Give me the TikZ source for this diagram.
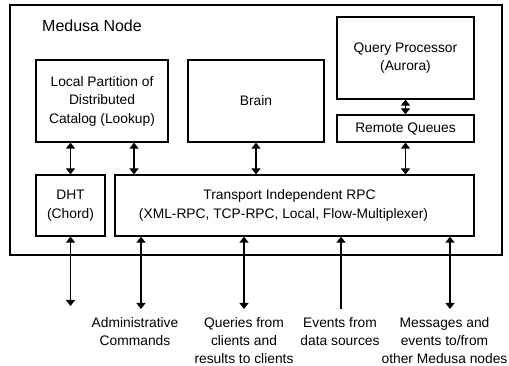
\documentclass[tikz,border=0pt]{standalone}
\usepackage{fontspec}
\setmainfont{Liberation Sans}
\usetikzlibrary{arrows.meta}

\tikzset{
  box/.style={draw, line width=1.2pt, inner sep=0pt, align=center, font=\fontsize{13.8}{18.5}\selectfont},
  lbl/.style={inner sep=0pt, align=center, anchor=north, font=\fontsize{13.8}{18}\selectfont},
  tip/.tip={Triangle[width=9pt,length=6pt]},
  link/.style={line width=1.2pt, tip-tip},
  feed/.style={line width=1.2pt, -tip}
}

\begin{document}
\begin{tikzpicture}[x=1pt,y=-1pt]
\useasboundingbox (0,0) rectangle (509,366);

% the node and its parts
\node[box, minimum width=492pt, minimum height=250pt] (medusa) at (256,130) {};
\node[anchor=base west, inner sep=0pt, font=\fontsize{16}{19}\selectfont] (title) at (42,31.5) {Medusa Node};
\node[box, minimum width=132pt, minimum height=82pt] (lp) at (102,101) {Local Partition of\\Distributed\\Catalog (Lookup)};
\node[box, minimum width=136pt, minimum height=82pt] (brain) at (256,101) {Brain};
\node[box, minimum width=137pt, minimum height=82pt] (qp) at (405.5,58) {Query Processor\\(Aurora)};
\node[box, minimum width=137pt, minimum height=27pt] (rq) at (405.5,128.5) {Remote Queues};
\node[box, minimum width=69pt, minimum height=61pt] (dht) at (70.5,205.5) {DHT\\(Chord)};
\node[box, minimum width=359pt, minimum height=61pt] (trp) at (294.5,205.5) {Transport Independent RPC\hspace*{10pt}\\(XML-RPC, TCP-RPC, Local, Flow-Multiplexer)\hspace*{22pt}};

% inner links
\draw[link] (lp.south -| dht.north) -- (dht.north);
\draw[link] ([xshift=32pt]lp.south) -- ([xshift=32pt]lp.south |- trp.north);
\draw[link] (brain.south) -- (brain.south |- trp.north);
\draw[link] (qp.south) -- (rq.north);
\draw[link] (rq.south) -- (rq.south |- trp.north);

% outside world
\coordinate (dhtend) at (70.5,306);
\coordinate (adminend) at (141,309);
\coordinate (queryend) at (244,309);
\coordinate (eventend) at (341,309);
\coordinate (msgend) at (450,309);
\draw[link] (dht.south) -- (dhtend);
\draw[link] (trp.south -| adminend) -- (adminend);
\draw[link] (trp.south -| queryend) -- (queryend);
\draw[feed] (eventend) -- (trp.south -| eventend);
\draw[link] (trp.south -| msgend) -- (msgend);

\node[lbl] (admin) at (135,317) {Administrative\\Commands};
\node[lbl] (query) at (244,317) {Queries from\\clients and\\results to clients};
\node[lbl] (event) at (340,317) {Events from\\data sources};
\node[lbl] (msg) at (444.5,317) {Messages and\\events to/from\\other Medusa nodes};

\end{tikzpicture}
\end{document}
